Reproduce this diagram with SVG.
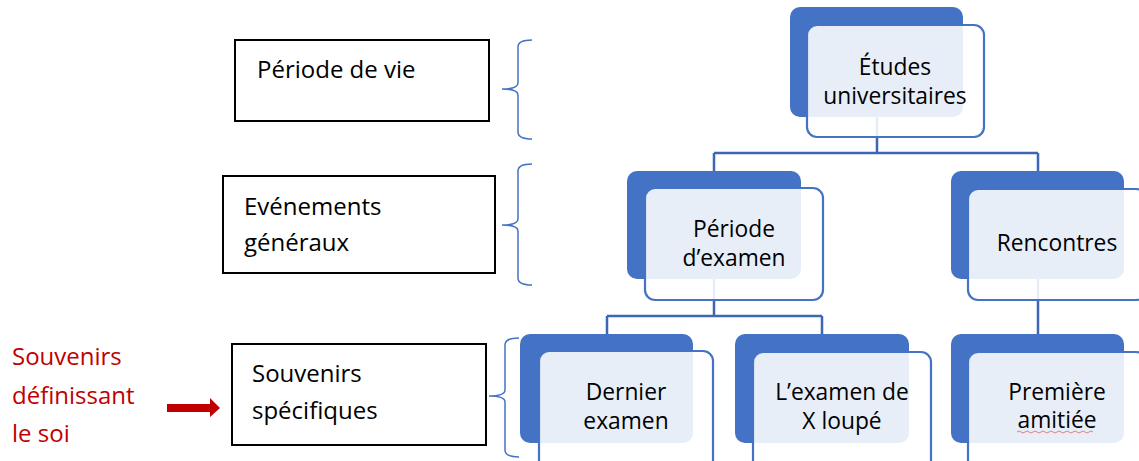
<svg xmlns="http://www.w3.org/2000/svg" width="1139" height="461" viewBox="0 0 1139 461">
<style>
text{font-family:"Open Sans","Noto Sans","Liberation Sans",sans-serif;font-size:24px;fill:#000}
.lbl{text-anchor:start}
.n{text-anchor:middle;font-size:22.8px}
.red{fill:#C00000}
.dark{fill:#4472C4}
.light{fill:#fff;fill-opacity:0.88;stroke:#4472C4;stroke-width:2.2}
.conn{fill:none;stroke:#3D66B4;stroke-width:2.5}
.brace{fill:none;stroke:#4472C4;stroke-width:1.5}
.box{fill:#fff;stroke:#000;stroke-width:2}
</style>
<rect width="1139" height="461" fill="#fff"/>
<g id="connectors">
<path class="conn" d="M877,117 V153 M714,153 H1038 M714,153 V171 M1038,153 V171"/>
<path class="conn" d="M714,279 V316 M607,316 H822 M607,316 V334 M822,316 V334"/>
<path class="conn" d="M1038,279 V334"/>
</g>
<g id="n-etudes">
<rect class="dark" x="790" y="7" width="173" height="110" rx="10"/>
<rect class="light" x="807" y="25" width="177" height="112" rx="10"/>
<text class="n" x="895" y="75">Études</text>
<text class="n" x="895" y="104">universitaires</text>
</g>
<g id="n-periode-examen">
<rect class="dark" x="627" y="171" width="174" height="108" rx="10"/>
<rect class="light" x="645" y="188" width="178" height="112" rx="10"/>
<text class="n" x="734" y="237">Période</text>
<text class="n" x="734" y="266">d’examen</text>
</g>
<g id="n-rencontres">
<rect class="dark" x="951" y="171" width="173" height="108" rx="10"/>
<rect class="light" x="968" y="189" width="178" height="111" rx="10"/>
<text class="n" x="1057" y="251">Rencontres</text>
</g>
<g id="n-dernier">
<rect class="dark" x="520" y="334" width="173" height="109" rx="10"/>
<rect class="light" x="539" y="351" width="174" height="120" rx="10"/>
<text class="n" x="626" y="400">Dernier</text>
<text class="n" x="626" y="429">examen</text>
</g>
<g id="n-loupe">
<rect class="dark" x="735" y="334" width="174" height="109" rx="10"/>
<rect class="light" x="753" y="352" width="178" height="120" rx="10"/>
<text class="n" x="842" y="400">L’examen de</text>
<text class="n" x="842" y="429">X loupé</text>
</g>
<g id="n-amitie">
<rect class="dark" x="951" y="334" width="173" height="109" rx="10"/>
<rect class="light" x="968" y="352" width="178" height="120" rx="10"/>
<text class="n" x="1057" y="400">Première</text>
<text class="n" x="1057" y="428">amitiée</text>
<path d="M1017,432 q2,-2 4,0 t4,0 t4,0 t4,0 t4,0 t4,0 t4,0 t4,0 t4,0 t4,0 t4,0 t4,0 t4,0 t4,0 t4,0 t4,0 t4,0 t4,0 t4,0" fill="none" stroke="#E06060" stroke-width="0.8"/>
</g>
<g id="l-periode-vie">
<rect class="box" x="235" y="40" width="254" height="81"/>
<text class="lbl" x="257" y="78">Période de vie</text>
<path class="brace" d="M532,40 Q518,40 518,47 L518,83 Q518,89 502,89 Q518,89 518,95 L518,132 Q518,139 532,139"/>
</g>
<g id="l-evenements">
<rect class="box" x="223" y="176" width="272" height="97"/>
<text class="lbl" x="244" y="215">Evénements</text>
<text class="lbl" x="244" y="251">généraux</text>
<path class="brace" d="M532,164 Q518,164 518,171 L518,219 Q518,225 502,225 Q518,225 518,231 L518,278 Q518,285 532,285"/>
</g>
<g id="l-souvenirs">
<rect class="box" x="232" y="344" width="254" height="101"/>
<text class="lbl" x="252" y="382">Souvenirs</text>
<text class="lbl" x="252" y="419">spécifiques</text>
<path class="brace" d="M519,338 Q505,338 505,345 L505,390 Q505,396 489,396 Q505,396 505,402 L505,450 Q505,457 519,457"/>
</g>
<g id="n-soi">
<text class="lbl red" x="12" y="365">Souvenirs</text>
<text class="lbl red" x="12" y="404">définissant</text>
<text class="lbl red" x="12" y="442">le soi</text>
<path d="M167,404 H210 V398 L220,408 L210,417 V412 H167 Z" fill="#C00000"/>
</g>
</svg>
